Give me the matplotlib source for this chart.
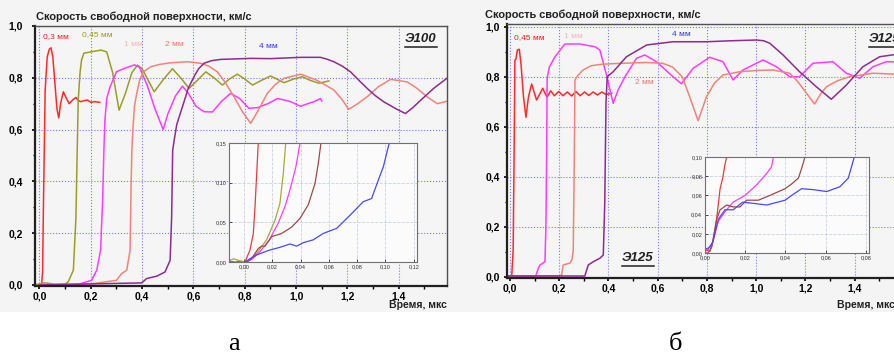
import numpy as np
import matplotlib
matplotlib.use("Agg")
from matplotlib import pyplot as plt
from matplotlib.ticker import MultipleLocator, FuncFormatter
from matplotlib.patches import Rectangle
from matplotlib.lines import Line2D

plt.rcParams['font.family'] = ['Liberation Sans', 'DejaVu Sans']

# ---------------- panel a (Э100) ----------------
a_red_t = [-0.02, 0.008, 0.012, 0.016, 0.022, 0.03, 0.038, 0.045, 0.052, 0.06, 0.068, 0.075, 0.082, 0.093,
           0.105, 0.116, 0.13, 0.142, 0.152, 0.161, 0.175, 0.187, 0.2, 0.215, 0.235]
a_red_v = [0.0, 0.0, 0.05, 0.35, 0.75, 0.88, 0.91, 0.916, 0.88, 0.78, 0.68, 0.645, 0.70, 0.746,
           0.72, 0.70, 0.715, 0.724, 0.712, 0.708, 0.712, 0.714, 0.705, 0.708, 0.705]

a_olive_t = [-0.02, 0.02, 0.04, 0.06, 0.10, 0.112, 0.132, 0.142, 0.147, 0.151, 0.158, 0.164, 0.173, 0.2,
             0.24, 0.262, 0.285, 0.31, 0.335, 0.36, 0.382, 0.40, 0.447, 0.48, 0.518, 0.55, 0.583, 0.615,
             0.648, 0.68, 0.713, 0.74, 0.771, 0.80, 0.83, 0.865, 0.90, 0.925, 0.953, 0.99, 1.024, 1.055,
             1.089, 1.128]
a_olive_v = [0.0, 0.008, 0.006, 0.002, 0.004, 0.012, 0.057, 0.26, 0.52, 0.714, 0.82, 0.869, 0.895, 0.90,
             0.907, 0.90, 0.82, 0.675, 0.74, 0.82, 0.849, 0.835, 0.746, 0.79, 0.835, 0.80, 0.759, 0.79,
             0.823, 0.80, 0.772, 0.795, 0.814, 0.795, 0.772, 0.79, 0.807, 0.795, 0.781, 0.795, 0.804, 0.79,
             0.779, 0.788]

a_mag_t = [0.05, 0.15, 0.203, 0.223, 0.238, 0.246, 0.251, 0.255, 0.262, 0.275, 0.30, 0.33, 0.37, 0.39,
           0.42, 0.45, 0.482, 0.50, 0.53, 0.557, 0.58, 0.61, 0.641, 0.674, 0.71, 0.745, 0.78, 0.816, 0.85,
           0.89, 0.927, 0.95, 0.978, 1.017, 1.045, 1.07, 1.095, 1.10]
a_mag_v = [0.0, 0.002, 0.018, 0.057, 0.134, 0.327, 0.52, 0.637, 0.72, 0.765, 0.823, 0.836, 0.85, 0.84,
           0.77, 0.68, 0.60, 0.66, 0.73, 0.768, 0.74, 0.69, 0.669, 0.668, 0.71, 0.74, 0.72, 0.682, 0.685,
           0.70, 0.72, 0.715, 0.708, 0.69, 0.70, 0.708, 0.72, 0.71]

a_sal_t = [0.0, 0.20, 0.30, 0.32, 0.34, 0.353, 0.357, 0.36, 0.363, 0.37, 0.379, 0.39, 0.405, 0.434, 0.47,
           0.512, 0.577, 0.628, 0.66, 0.693, 0.725, 0.758, 0.79, 0.823, 0.85, 0.888, 0.92, 0.953, 1.018,
           1.082, 1.147, 1.18, 1.205, 1.24, 1.277, 1.32, 1.368, 1.433, 1.47, 1.51, 1.55, 1.59]
a_sal_v = [0.002, 0.004, 0.018, 0.044, 0.057, 0.134, 0.392, 0.52, 0.585, 0.69, 0.74, 0.79, 0.823, 0.843,
           0.852, 0.858, 0.862, 0.856, 0.845, 0.823, 0.78, 0.727, 0.67, 0.624, 0.67, 0.74, 0.775, 0.798,
           0.814, 0.79, 0.753, 0.715, 0.678, 0.70, 0.727, 0.765, 0.794, 0.784, 0.76, 0.727, 0.70, 0.71]

a_pur_t = [0.0, 0.398, 0.418, 0.457, 0.489, 0.509, 0.515, 0.519, 0.525, 0.535, 0.557, 0.58, 0.602, 0.62,
           0.641, 0.67, 0.706, 0.823, 0.9, 1.017, 1.095, 1.12, 1.147, 1.18, 1.212, 1.245, 1.277, 1.31,
           1.342, 1.39, 1.426, 1.455, 1.484, 1.536, 1.59]
a_pur_v = [0.0, 0.008, 0.025, 0.034, 0.05, 0.095, 0.263, 0.52, 0.56, 0.62, 0.688, 0.76, 0.804, 0.835,
           0.856, 0.866, 0.871, 0.875, 0.874, 0.879, 0.879, 0.872, 0.862, 0.845, 0.823, 0.79, 0.759, 0.73,
           0.707, 0.68, 0.662, 0.685, 0.712, 0.759, 0.80]

# inset a
ia_red_t = [-0.0105, -0.006, -0.002, 0.0007, 0.0042, 0.0066, 0.0078, 0.009, 0.0101]
ia_red_v = [0.001, 0.0, 0.001, 0.0, 0.015, 0.036, 0.07, 0.112, 0.15]
ia_olive_t = [-0.0105, -0.007, -0.004, 0.0, 0.004, 0.009, 0.016, 0.022, 0.0254, 0.0278, 0.0295]
ia_olive_v = [0.002, 0.004, 0.002, 0.0, 0.002, 0.011, 0.028, 0.053, 0.074, 0.112, 0.15]
ia_mag_t = [0.002, 0.006, 0.0113, 0.018, 0.0242, 0.029, 0.0325, 0.0367, 0.0396]
ia_mag_v = [0.0, 0.004, 0.013, 0.028, 0.049, 0.07, 0.091, 0.12, 0.15]
ia_brown_t = [0.002, 0.006, 0.0101, 0.0125, 0.0148, 0.0196, 0.0266, 0.0337, 0.0396, 0.0454, 0.0502,
              0.0525, 0.0544]
ia_brown_v = [0.0, 0.006, 0.017, 0.020, 0.020, 0.032, 0.036, 0.044, 0.055, 0.072, 0.099, 0.124, 0.15]
ia_blue_t = [0.0007, 0.005, 0.009, 0.018, 0.0254, 0.0325, 0.0372, 0.0419, 0.049, 0.056, 0.0655, 0.075,
             0.0843, 0.0902, 0.0949, 0.0985, 0.1027]
ia_blue_v = [0.0, 0.005, 0.009, 0.015, 0.0185, 0.0227, 0.020, 0.0243, 0.028, 0.036, 0.0424, 0.059,
             0.076, 0.080, 0.103, 0.12, 0.15]

# ---------------- panel б (Э125) ----------------
b_red_t = [-0.02, 0.007, 0.013, 0.017, 0.02, 0.024, 0.03, 0.038, 0.045, 0.055, 0.065, 0.075, 0.088, 0.098,
           0.108, 0.12, 0.133, 0.142, 0.151, 0.165, 0.18, 0.198, 0.215, 0.233, 0.25, 0.268, 0.285, 0.303,
           0.32, 0.338, 0.355, 0.373, 0.39, 0.413]
b_red_v = [0.0, 0.0, 0.108, 0.508, 0.868, 0.87, 0.908, 0.911, 0.85, 0.72, 0.639, 0.72, 0.772, 0.74,
           0.708, 0.73, 0.755, 0.735, 0.719, 0.745, 0.725, 0.742, 0.725, 0.74, 0.724, 0.742, 0.725, 0.74,
           0.726, 0.74, 0.728, 0.74, 0.73, 0.735]

b_mag_t = [-0.02, 0.105, 0.115, 0.122, 0.142, 0.146, 0.149, 0.151, 0.16, 0.183, 0.223, 0.284, 0.345, 0.365,
           0.392, 0.419, 0.44, 0.467, 0.514, 0.548, 0.595, 0.662, 0.696, 0.744, 0.811, 0.865, 0.906, 0.946,
           1.028, 1.082, 1.136, 1.176, 1.23, 1.311, 1.366, 1.42, 1.474, 1.528, 1.6]
b_mag_v = [0.005, 0.003, 0.035, 0.048, 0.061, 0.2, 0.5, 0.795, 0.84, 0.881, 0.932, 0.932, 0.921, 0.908,
           0.808, 0.695, 0.75, 0.801, 0.875, 0.888, 0.861, 0.801, 0.773, 0.835, 0.879, 0.861, 0.788, 0.828,
           0.868, 0.841, 0.801, 0.801, 0.855, 0.861, 0.815, 0.795, 0.841, 0.861, 0.86]

b_sal_t = [-0.02, 0.20, 0.21, 0.216, 0.23, 0.243, 0.252, 0.257, 0.261, 0.264, 0.275, 0.297, 0.33, 0.365,
           0.41, 0.46, 0.55, 0.62, 0.66, 0.70, 0.73, 0.764, 0.78, 0.798, 0.83, 0.865, 0.933, 1.0, 1.068,
           1.136, 1.17, 1.204, 1.237, 1.26, 1.285, 1.33, 1.379, 1.474, 1.6]
b_sal_v = [0.004, 0.005, 0.008, 0.048, 0.052, 0.055, 0.07, 0.108, 0.45, 0.788, 0.805, 0.828, 0.845, 0.85,
           0.853, 0.855, 0.858, 0.855, 0.84, 0.80, 0.72, 0.625, 0.67, 0.721, 0.775, 0.808, 0.821, 0.826,
           0.828, 0.815, 0.78, 0.735, 0.692, 0.73, 0.761, 0.785, 0.801, 0.815, 0.81]

b_pur_t = [-0.02, 0.304, 0.318, 0.338, 0.365, 0.379, 0.385, 0.39, 0.395, 0.419, 0.473, 0.555, 0.662, 0.798,
           0.9, 1.001, 1.03, 1.055, 1.109, 1.176, 1.244, 1.305, 1.366, 1.433, 1.501, 1.6]
b_pur_v = [0.004, 0.004, 0.048, 0.061, 0.075, 0.088, 0.3, 0.7, 0.801, 0.821, 0.881, 0.928, 0.941, 0.941,
           0.945, 0.948, 0.945, 0.935, 0.888, 0.821, 0.761, 0.711, 0.768, 0.841, 0.881, 0.895]

# inset б
ib_red_t = [0.0, 0.0025, 0.004, 0.0058, 0.0075, 0.0088, 0.0099, 0.0108]
ib_red_v = [0.003, 0.002, 0.012, 0.036, 0.067, 0.078, 0.092, 0.10]
ib_mag_t = [0.0, 0.0033, 0.0066, 0.0099, 0.014, 0.0199, 0.0257, 0.0307, 0.0331, 0.034]
ib_mag_v = [0.003, 0.008, 0.033, 0.043, 0.053, 0.060, 0.071, 0.083, 0.090, 0.10]
ib_brown_t = [0.0, 0.0016, 0.0033, 0.0058, 0.0075, 0.0108, 0.014, 0.0174, 0.0207, 0.0265, 0.0323, 0.0398,
              0.0431, 0.0464, 0.048, 0.0497]
ib_brown_v = [0.0, 0.0, 0.006, 0.035, 0.045, 0.050, 0.048, 0.048, 0.055, 0.055, 0.060, 0.067, 0.072,
              0.078, 0.088, 0.10]
ib_blue_t = [0.0, 0.0016, 0.004, 0.0066, 0.0099, 0.014, 0.0187, 0.0229, 0.0307, 0.0398, 0.0431, 0.048,
             0.0538, 0.0605, 0.067, 0.0712, 0.0742]
ib_blue_v = [0.005, 0.004, 0.012, 0.035, 0.045, 0.045, 0.053, 0.052, 0.050, 0.055, 0.060, 0.067, 0.066,
             0.064, 0.069, 0.078, 0.10]

x_major = [0.0, 0.2, 0.4, 0.6, 0.8, 1.0, 1.2, 1.4]

RED = '#ff2a2a'
OLIVE = '#9c9c28'
MAG = '#ff3cff'
SAL = '#f08478'
PUR = '#8c2c8c'
BROWN = '#a04848'
BLUE = '#4848ff'

W, H = 895, 354


def comma(fmt):
    return FuncFormatter(lambda v, p: (fmt % v).replace('.', ','))


def rect(x0, y0, x1, y1):
    # pixel box (top-left origin) -> figure fraction
    return [x0 / W, 1 - y1 / H, (x1 - x0) / W, (y1 - y0) / H]


def main_axes(fig, box, xlim, ylim, ypad):
    ax = fig.add_axes(rect(*box))
    ax.set_facecolor('#f5f5f5')
    ax.set_xlim(*xlim)
    ax.set_ylim(*ylim)
    ax.set_xticks(x_major)
    ax.xaxis.set_minor_locator(MultipleLocator(0.1))
    ax.yaxis.set_major_locator(MultipleLocator(0.2))
    ax.yaxis.set_minor_locator(MultipleLocator(0.1))
    ax.xaxis.set_major_formatter(comma('%.1f'))
    ax.yaxis.set_major_formatter(comma('%.1f'))
    ax.tick_params(which='major', direction='out', length=2.5, width=1.2, labelsize=7.5)
    ax.tick_params(which='minor', direction='out', length=1.8, width=1)
    ax.tick_params(axis='x', which='major', pad=1.5)
    ax.tick_params(axis='y', which='major', pad=ypad)
    for lab in ax.get_xticklabels() + ax.get_yticklabels():
        lab.set_fontweight('bold')
    ax.grid(True, which='major', color='#7878ff', linestyle=':', linewidth=0.8)
    for s in ['left', 'bottom']:
        ax.spines[s].set_linewidth(1.6)
        ax.spines[s].set_color('#202020')
    for s in ['top', 'right']:
        ax.spines[s].set_linewidth(1.0)
        ax.spines[s].set_color('#505050')
    return ax


def inset_axes(fig, box, xlim, ylim, xstep, ystep):
    ax = fig.add_axes(rect(*box))
    ax.set_facecolor('#fbfbfb')
    ax.set_xlim(*xlim)
    ax.set_ylim(*ylim)
    ax.xaxis.set_major_locator(MultipleLocator(xstep))
    ax.yaxis.set_major_locator(MultipleLocator(ystep))
    ax.xaxis.set_major_formatter(comma('%.2f'))
    ax.yaxis.set_major_formatter(comma('%.2f'))
    ax.tick_params(direction='in', length=2, width=0.6, labelsize=4, pad=2, colors='#303030')
    ax.grid(True, color='#c8d0e8', linestyle='--', linewidth=0.6)
    for s in ax.spines.values():
        s.set_linewidth(0.8)
        s.set_color('#707070')
    return ax


def underlined(fig, x, y, s, size):
    t = fig.text(x / W, 1 - y / H, s, fontsize=size, fontweight='bold', fontstyle='italic',
                 va='baseline', ha='left', color='#202020')
    fig.canvas.draw()
    bb = t.get_window_extent(fig.canvas.get_renderer())
    yl = (bb.y0 - 2) / fig.dpi / fig.get_figheight()
    fig.add_artist(Line2D([bb.x0 / W, bb.x1 / W], [yl, yl], color='#202020', linewidth=1.1))


fig = plt.figure(figsize=(W / 100, H / 100), dpi=100)
fig.patch.set_facecolor('white')
fig.add_artist(Rectangle((0, 1 - 312 / H), 1, 312 / H, transform=fig.transFigure,
                         facecolor='#f4f4f4', edgecolor='none', zorder=-10))

# ---- panel a ----
ax1 = main_axes(fig, (35, 26, 447, 286), (-0.0175, 1.588), (-0.004, 1.0), ypad=6)
lw = 1.1
ax1.plot(a_red_t, a_red_v, color=RED, lw=lw)
ax1.plot(a_olive_t, a_olive_v, color=OLIVE, lw=lw)
ax1.plot(a_mag_t, a_mag_v, color=MAG, lw=lw)
ax1.plot(a_sal_t, a_sal_v, color=SAL, lw=lw)
ax1.plot(a_pur_t, a_pur_v, color=PUR, lw=lw)

fig.text(36 / W, 1 - 20 / H, 'Скорость свободной поверхности, км/с', fontsize=7.9, fontweight='bold',
         va='baseline', color='#202020')
fig.text(447 / W, 1 - 308 / H, 'Время, мкс', fontsize=7.5, fontweight='bold', ha='right',
         va='baseline', color='#202020')
for s, x, y, c in [('0,3 мм', 43, 38, '#ff2020'), ('0,45 мм', 82, 36, '#9a9a20'),
                   ('1 мм', 124, 46, '#f5b4b4'), ('2 мм', 165, 46, '#f07468'),
                   ('4 мм', 259, 48, '#3434ff')]:
    fig.text(x / W, 1 - y / H, s, fontsize=6, color=c, va='baseline')
underlined(fig, 405, 42, 'Э100', 9.5)

ia = inset_axes(fig, (229, 143, 417, 262), (-0.0106, 0.1223), (0, 0.15), 0.02, 0.05)
ilw = 0.9
ia.plot(ia_red_t, ia_red_v, color='#e83c3c', lw=ilw)
ia.plot(ia_olive_t, ia_olive_v, color='#a8a83c', lw=ilw)
ia.plot(ia_mag_t, ia_mag_v, color=MAG, lw=ilw)
ia.plot(ia_brown_t, ia_brown_v, color=BROWN, lw=ilw)
ia.plot(ia_blue_t, ia_blue_v, color=BLUE, lw=ilw)

# ---- panel б ----
ax2 = main_axes(fig, (507, 24, 904, 278), (-0.012, 1.6), (-0.004, 1.012), ypad=2.5)
ax2.plot(b_red_t, b_red_v, color=RED, lw=lw)
ax2.plot(b_mag_t, b_mag_v, color=MAG, lw=lw)
ax2.plot(b_sal_t, b_sal_v, color=SAL, lw=lw)
ax2.plot(b_pur_t, b_pur_v, color=PUR, lw=lw)

fig.text(485 / W, 1 - 18 / H, 'Скорость свободной поверхности, км/с', fontsize=7.9, fontweight='bold',
         va='baseline', color='#202020')
fig.text(895 / W, 1 - 308 / H, 'Время, мкс', fontsize=7.5, fontweight='bold', ha='right',
         va='baseline', color='#202020')
for s, x, y, c in [('0,45 мм', 514, 39, '#ff2020'), ('1 мм', 564, 38, '#f5b4b4'),
                   ('4 мм', 672, 36, '#3434ff'), ('2 мм', 635, 84, '#f07468')]:
    fig.text(x / W, 1 - y / H, s, fontsize=6, color=c, va='baseline')
underlined(fig, 869, 42, 'Э125', 9.5)
underlined(fig, 622, 261, 'Э125', 9.5)

ib = inset_axes(fig, (705, 157, 869, 253), (0, 0.0815), (0, 0.10), 0.02, 0.02)
ib.plot(ib_red_t, ib_red_v, color='#e83c3c', lw=ilw)
ib.plot(ib_mag_t, ib_mag_v, color=MAG, lw=ilw)
ib.plot(ib_brown_t, ib_brown_v, color=BROWN, lw=ilw)
ib.plot(ib_blue_t, ib_blue_v, color=BLUE, lw=ilw)

fig.text(234 / W, 1 - 350 / H, 'а', fontsize=19, family=['Liberation Serif', 'DejaVu Serif'],
         ha='center', va='baseline')
fig.text(675 / W, 1 - 350 / H, 'б', fontsize=19, family=['Liberation Serif', 'DejaVu Serif'],
         ha='center', va='baseline')

fig.savefig('out.png', dpi=100, facecolor=fig.get_facecolor())
